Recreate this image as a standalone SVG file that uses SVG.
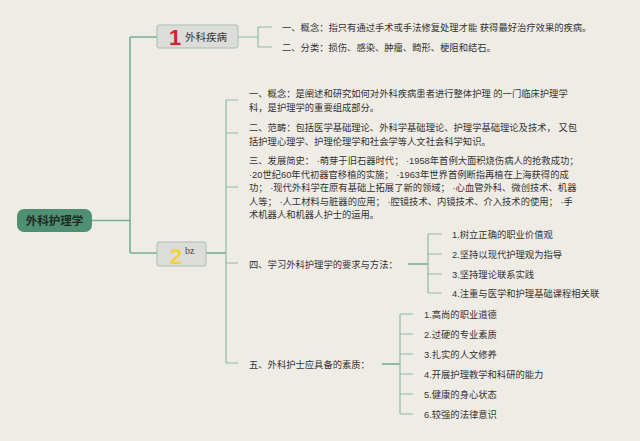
<svg xmlns="http://www.w3.org/2000/svg" width="640" height="441" viewBox="0 0 640 441">
<style>
.bg{fill:#efece6}
.ln{fill:none;stroke:#8fbaa5;stroke-width:1.2}
.lnb{fill:none;stroke:#7aad94;stroke-width:1.6}
.t{font-family:"Liberation Sans","Noto Sans CJK SC",sans-serif;font-size:9.3px;fill:#333}
.box{fill:#dcdcda;stroke:#a9bfb3;stroke-width:1}
</style>
<rect class="bg" width="640" height="441"/>
<g id="connectors">
<path class="lnb" d="M92,220.5 H130 M130,37 V253 M130,37 H157 M130,253 H157"/>
<path class="ln" d="M238,37 H258 M258,27 V47 M258,27 H272 M258,47 H272"/>
<path class="lnb" d="M206,253 H226"/>
<path class="ln" d="M226,100 V363 M226,100 H238 M226,133 H238 M226,187 H238 M226,263 H238 M226,363 H238"/>
<path class="lnb" d="M408,264 H428"/>
<path class="ln" d="M428,234 V293 M428,234 H442 M428,254 H442 M428,274 H442 M428,293 H442"/>
<path class="lnb" d="M382,364 H400"/>
<path class="ln" d="M400,314 V414 M400,314 H413 M400,334 H413 M400,354 H413 M400,374 H413 M400,394 H413 M400,414 H413"/>
</g>
<g id="root">
<rect x="17" y="209" width="75" height="23" rx="7" fill="#4f8f73"/>
<text x="54.5" y="224.5" text-anchor="middle" font-family="Noto Sans CJK SC,sans-serif" font-size="11.5" font-weight="bold" fill="#1d2b25">外科护理学</text>
</g>
<g id="node1">
<rect class="box" x="157" y="25" width="81" height="23" rx="2"/>
<text x="175" y="45" text-anchor="middle" font-family="Liberation Sans,sans-serif" font-size="22" font-weight="bold" fill="#d9232e">1</text>
<text x="185" y="41" font-family="Noto Sans CJK SC,sans-serif" font-size="10.5" fill="#333">外科疾病</text>
</g>
<g id="node2">
<rect class="box" x="157" y="242" width="49" height="24" rx="2"/>
<text x="176" y="264" text-anchor="middle" font-family="Liberation Sans,sans-serif" font-size="22" font-weight="bold" fill="#f4d13c">2</text>
<text x="185" y="254" font-family="Liberation Serif,serif" font-size="10" fill="#444">bz</text>
</g>
<g id="n1-items">
<text class="t" x="282" y="30.5">一、概念：指只有通过手术或手法修复处理才能 获得最好治疗效果的疾病。</text>
<text class="t" x="282" y="50.5">二、分类：损伤、感染、肿瘤、畸形、梗阻和结石。</text>
</g>
<g id="n2-items">
<text class="t" x="249" y="97">一、概念：是阐述和研究如何对外科疾病患者进行整体护理 的一门临床护理学</text>
<text class="t" x="249" y="111">科，是护理学的重要组成部分。</text>
<text class="t" x="249" y="131">二、范畴：包括医学基础理论、外科学基础理论、护理学基础理论及技术， 又包</text>
<text class="t" x="249" y="144.5">括护理心理学、护理伦理学和社会学等人文社会科学知识。</text>
<text class="t" x="249" y="164">三、发展简史： ·萌芽于旧石器时代； ·1958年首例大面积烧伤病人的抢救成功；</text>
<text class="t" x="249" y="177.5">·20世纪60年代初器官移植的实施； ·1963年世界首例断指再植在上海获得的成</text>
<text class="t" x="249" y="191">功； ·现代外科学在原有基础上拓展了新的领域； ·心血管外科、微创技术、机器</text>
<text class="t" x="249" y="204.5">人等； ·人工材料与脏器的应用； ·腔镜技术、内镜技术、介入技术的使用； ·手</text>
<text class="t" x="249" y="218">术机器人和机器人护士的运用。</text>
<text class="t" x="249" y="268">四、学习外科护理学的要求与方法：</text>
<text class="t" x="249" y="367.5">五、外科护士应具备的素质：</text>
</g>
<g id="n4-items">
<text class="t" x="452" y="237.5">1.树立正确的职业价值观</text>
<text class="t" x="452" y="257.5">2.坚持以现代护理观为指导</text>
<text class="t" x="452" y="277.5">3.坚持理论联系实践</text>
<text class="t" x="452" y="296.5">4.注重与医学和护理基础课程相关联</text>
</g>
<g id="n5-items">
<text class="t" x="424" y="317.5">1.高尚的职业道德</text>
<text class="t" x="424" y="337.5">2.过硬的专业素质</text>
<text class="t" x="424" y="357.5">3.扎实的人文修养</text>
<text class="t" x="424" y="377.5">4.开展护理教学和科研的能力</text>
<text class="t" x="424" y="397.5">5.健康的身心状态</text>
<text class="t" x="424" y="417.5">6.较强的法律意识</text>
</g>
</svg>
